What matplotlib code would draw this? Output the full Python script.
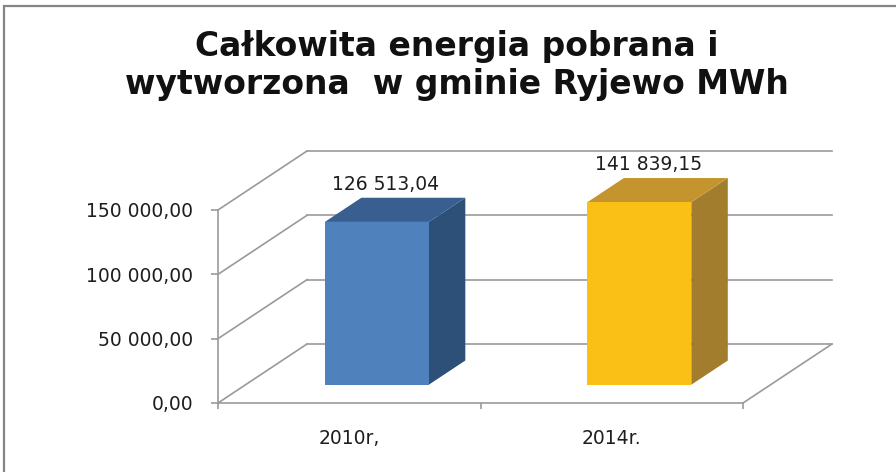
import matplotlib
matplotlib.use("Agg")
import matplotlib.pyplot as plt
from matplotlib.patches import Polygon, Rectangle
from matplotlib.ticker import FixedLocator, FuncFormatter

# ---- data ----
categories = ["2010r,", "2014r."]
values = [126513.04, 141839.15]
y_ticks = [0, 50000, 100000, 150000]
title = "Całkowita energia pobrana i\nwytworzona  w gminie Ryjewo MWh"

front_colors = ["#4F81BD", "#FBC016"]
top_colors = ["#385F8F", "#C4952E"]
side_colors = ["#2D5079", "#A37D2E"]
grid_color = "#9A9A9A"
text_color = "#1E1E1E"

W, H = 896, 472
fig = plt.figure(figsize=(W / 100, H / 100), dpi=100)

# front plane of the 3D box (pixels)
x0, x1 = 218, 743
yb, yt = 403, 210
ax = fig.add_axes([x0 / W, (H - yb) / H, (x1 - x0) / W, (yb - yt) / H])
ax.set_xlim(0, len(categories))
ax.set_ylim(y_ticks[0], y_ticks[-1])
ax.patch.set_visible(False)

# depth offset expressed in data units
px_per_cat = (x1 - x0) / len(categories)
px_per_val = (yb - yt) / (y_ticks[-1] - y_ticks[0])
kx = 89 / px_per_cat
ky = 59 / px_per_val

# wall / floor gridlines
ncat = len(categories)
for v in y_ticks:
    ax.plot([0, kx], [v, v + ky], color=grid_color, lw=1.2, clip_on=False, zorder=1)
    ax.plot([kx, ncat + kx], [v + ky, v + ky], color=grid_color, lw=1.2, clip_on=False, zorder=1)
ax.plot([ncat, ncat + kx], [0, ky], color=grid_color, lw=1.2, clip_on=False, zorder=1)

# bars
hw = 0.198
d0, d1 = 0.31, 0.72
for i, v in enumerate(values):
    c = i + 0.5
    fx0 = c - hw + d0 * kx
    fx1 = c + hw + d0 * kx
    bx0 = c - hw + d1 * kx
    bx1 = c + hw + d1 * kx
    fy = d0 * ky
    by = d1 * ky
    front = Polygon([(fx0, fy), (fx1, fy), (fx1, v + fy), (fx0, v + fy)],
                    closed=True, facecolor=front_colors[i], edgecolor="none",
                    clip_on=False, zorder=3)
    side = Polygon([(fx1, fy), (bx1, by), (bx1, v + by), (fx1, v + fy)],
                   closed=True, facecolor=side_colors[i], edgecolor="none",
                   clip_on=False, zorder=3)
    top = Polygon([(fx0, v + fy), (fx1, v + fy), (bx1, v + by), (bx0, v + by)],
                  closed=True, facecolor=top_colors[i], edgecolor="none",
                  clip_on=False, zorder=3)
    for p in (side, top, front):
        ax.add_patch(p)
    label = f"{v:,.2f}".replace(",", " ").replace(".", ",")
    ax.text(c + (d0 + 0.1) * kx, v + by + 3000, label, ha="center", va="bottom",
            fontsize=13.5, color=text_color, zorder=4)

# axes styling
for s in ["top", "right"]:
    ax.spines[s].set_visible(False)
for s in ["left", "bottom"]:
    ax.spines[s].set_color(grid_color)
    ax.spines[s].set_linewidth(1.2)
    ax.spines[s].set_zorder(2)

fmt = FuncFormatter(lambda v, p: f"{v:,.2f}".replace(",", " ").replace(".", ","))
ax.yaxis.set_major_locator(FixedLocator(y_ticks))
ax.yaxis.set_major_formatter(fmt)
ax.tick_params(axis="y", direction="out", length=5, width=1.2, color=grid_color,
               pad=13, labelsize=13.5, labelcolor=text_color)

ax.xaxis.set_major_locator(FixedLocator(list(range(ncat + 1))))
ax.xaxis.set_major_formatter(FuncFormatter(lambda v, p: ""))
ax.xaxis.set_minor_locator(FixedLocator([i + 0.5 for i in range(ncat)]))
ax.set_xticklabels(categories, minor=True)
ax.tick_params(axis="x", which="major", direction="out", length=4, width=1.2, color=grid_color)
ax.tick_params(axis="x", which="minor", length=0, pad=19, labelsize=13.5, labelcolor=text_color)

# title
fig.text(457 / W, 1 - 30 / H, title, ha="center", va="top", fontsize=23.8,
         fontweight="bold", family="DejaVu Sans", color="#111111", linespacing=1.2)

# chart border (extends beyond the cropped picture)
fig.patches.append(Rectangle((4 / W, -0.1), 1.2, 1.1 - 6 / H, transform=fig.transFigure,
                             fill=False, edgecolor="#858585", linewidth=1.6))

fig.savefig("out.png", dpi=100, facecolor="white")
